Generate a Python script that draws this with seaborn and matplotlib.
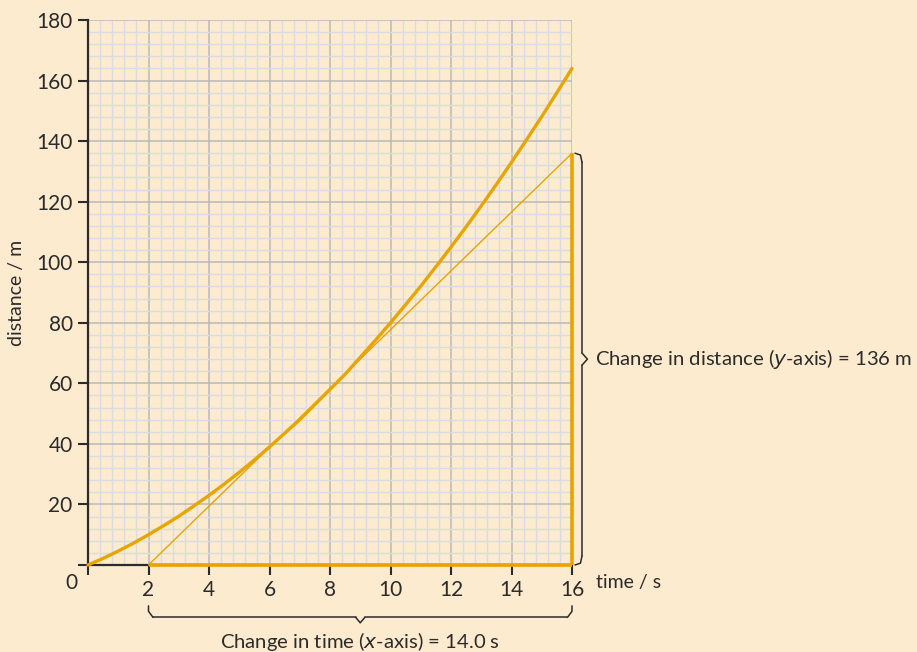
import matplotlib.pyplot as plt
import seaborn as sns
import pandas as pd
from matplotlib.ticker import MultipleLocator

# values
time_s = [0, 0.5, 1, 1.5, 2, 2.5, 3, 3.5, 4, 4.5, 5, 5.5, 6, 6.5, 7, 7.5, 8,
          8.5, 9, 9.5, 10, 10.5, 11, 11.5, 12, 12.5, 13, 13.5, 14, 14.5, 15, 15.5, 16]
distance_m = [0, 2.2, 4.6, 7.2, 10, 13, 16.1, 19.5, 23, 26.7, 30.6, 34.7, 39, 43.5,
              48, 53, 58, 63, 68.6, 74.2, 80, 86, 92.1, 98.5, 105, 111.7, 118.6,
              125.7, 133, 140.5, 148.1, 156, 164]
tangent_time = [2, 16]
tangent_dist = [0, 136]
x_ticks = [0, 2, 4, 6, 8, 10, 12, 14, 16]
y_ticks = [0, 20, 40, 60, 80, 100, 120, 140, 160, 180]

bg = "#fdebcf"
orange = "#e6a500"
ink = "#2b2b2b"

sns.set_style("white")
plt.rcParams["font.family"] = ["Lato", "DejaVu Sans"]

curve = pd.DataFrame({"time": time_s, "distance": distance_m})
tangent = pd.DataFrame({"time": tangent_time, "distance": tangent_dist})

fig = plt.figure(figsize=(9.17, 6.52), dpi=100)
fig.patch.set_facecolor(bg)
ax = fig.add_axes([88 / 917, 87 / 652, 484 / 917, 545 / 652])
ax.set_facecolor(bg)

ax.set_xlim(0, 16)
ax.set_ylim(0, 180)
ax.xaxis.set_minor_locator(MultipleLocator(0.4))
ax.yaxis.set_minor_locator(MultipleLocator(4))
ax.set_xticks(x_ticks)
ax.set_yticks(y_ticks)
ax.set_xticklabels([""] + [str(t) for t in x_ticks[1:]])
ax.set_yticklabels([""] + [str(t) for t in y_ticks[1:]])
ax.grid(which="minor", color="#d9dde3", linewidth=1.0)
ax.grid(which="major", color="#b9b9b9", linewidth=1.1)
ax.set_axisbelow(True)
ax.tick_params(axis="both", which="major", direction="out", length=7, width=1.5,
               colors=ink, labelsize=15, pad=4, bottom=True, left=True)
ax.tick_params(which="minor", length=0)

for s in ["top", "right"]:
    ax.spines[s].set_visible(False)
for s in ["left", "bottom"]:
    ax.spines[s].set_color(ink)
    ax.spines[s].set_linewidth(1.6)

# base line and rise of the triangle
ax.plot([tangent_time[0], tangent_time[1]], [0, 0], color=orange, lw=2.6,
        clip_on=False, zorder=4, solid_capstyle="butt")
ax.plot([tangent_time[1], tangent_time[1]], [0, tangent_dist[1]], color=orange,
        lw=2.6, clip_on=False, zorder=4, solid_capstyle="butt")

sns.lineplot(data=tangent, x="time", y="distance", ax=ax, color=orange, lw=1.0,
             zorder=5, clip_on=False)
sns.lineplot(data=curve, x="time", y="distance", ax=ax, color=orange, lw=2.4,
             zorder=6, clip_on=False)

ax.set_xlabel("")
ax.set_ylabel("distance / m", fontsize=14, color=ink)
ax.yaxis.set_label_coords(-0.13, 0.5)
ax.text(-0.35, -2.5, "0", fontsize=15, color=ink, ha="right", va="top")
ax.text(16.8, -3, "time / s", fontsize=14, color=ink, ha="left", va="top")

# horizontal brace under the x axis
x0, x1 = tangent_time
xm = (x0 + x1) / 2
yb, yc = -17.3, -15.3
brace_kw = dict(color=ink, lw=1.1, clip_on=False)
ax.plot([x0, x0, x0 + 0.15], [-13.5, yc, yb], **brace_kw)
ax.plot([x0 + 0.15, xm - 0.15], [yb, yb], **brace_kw)
ax.plot([xm - 0.15, xm, xm + 0.15], [yb, yb - 1.8, yb], **brace_kw)
ax.plot([xm + 0.15, x1 - 0.15], [yb, yb], **brace_kw)
ax.plot([x1 - 0.15, x1, x1], [yb, yc, -13.5], **brace_kw)
ax.text(xm, -21.5, r"Change in time ($\mathit{x}$-axis) = 14.0 s", fontsize=14.6,
        color=ink, ha="center", va="top")

# vertical brace right of the rise
y0, y1 = 0, tangent_dist[1]
ymid = 68
xb = 16.33
ax.plot([16.1, xb - 0.05, xb], [y1, y1 - 0.6, y1 - 3], **brace_kw)
ax.plot([xb, xb], [y1 - 3, ymid + 2], **brace_kw)
ax.plot([xb, xb + 0.18, xb], [ymid + 2, ymid, ymid - 2], **brace_kw)
ax.plot([xb, xb], [ymid - 2, y0 + 3], **brace_kw)
ax.plot([xb, xb - 0.05, 16.1], [y0 + 3, y0 + 0.6, y0], **brace_kw)
ax.text(16.75, ymid, r"Change in distance ($\mathit{y}$-axis) = 136 m", fontsize=14.6,
        color=ink, ha="left", va="center")

fig.savefig("out.png", dpi=100, facecolor=bg)
